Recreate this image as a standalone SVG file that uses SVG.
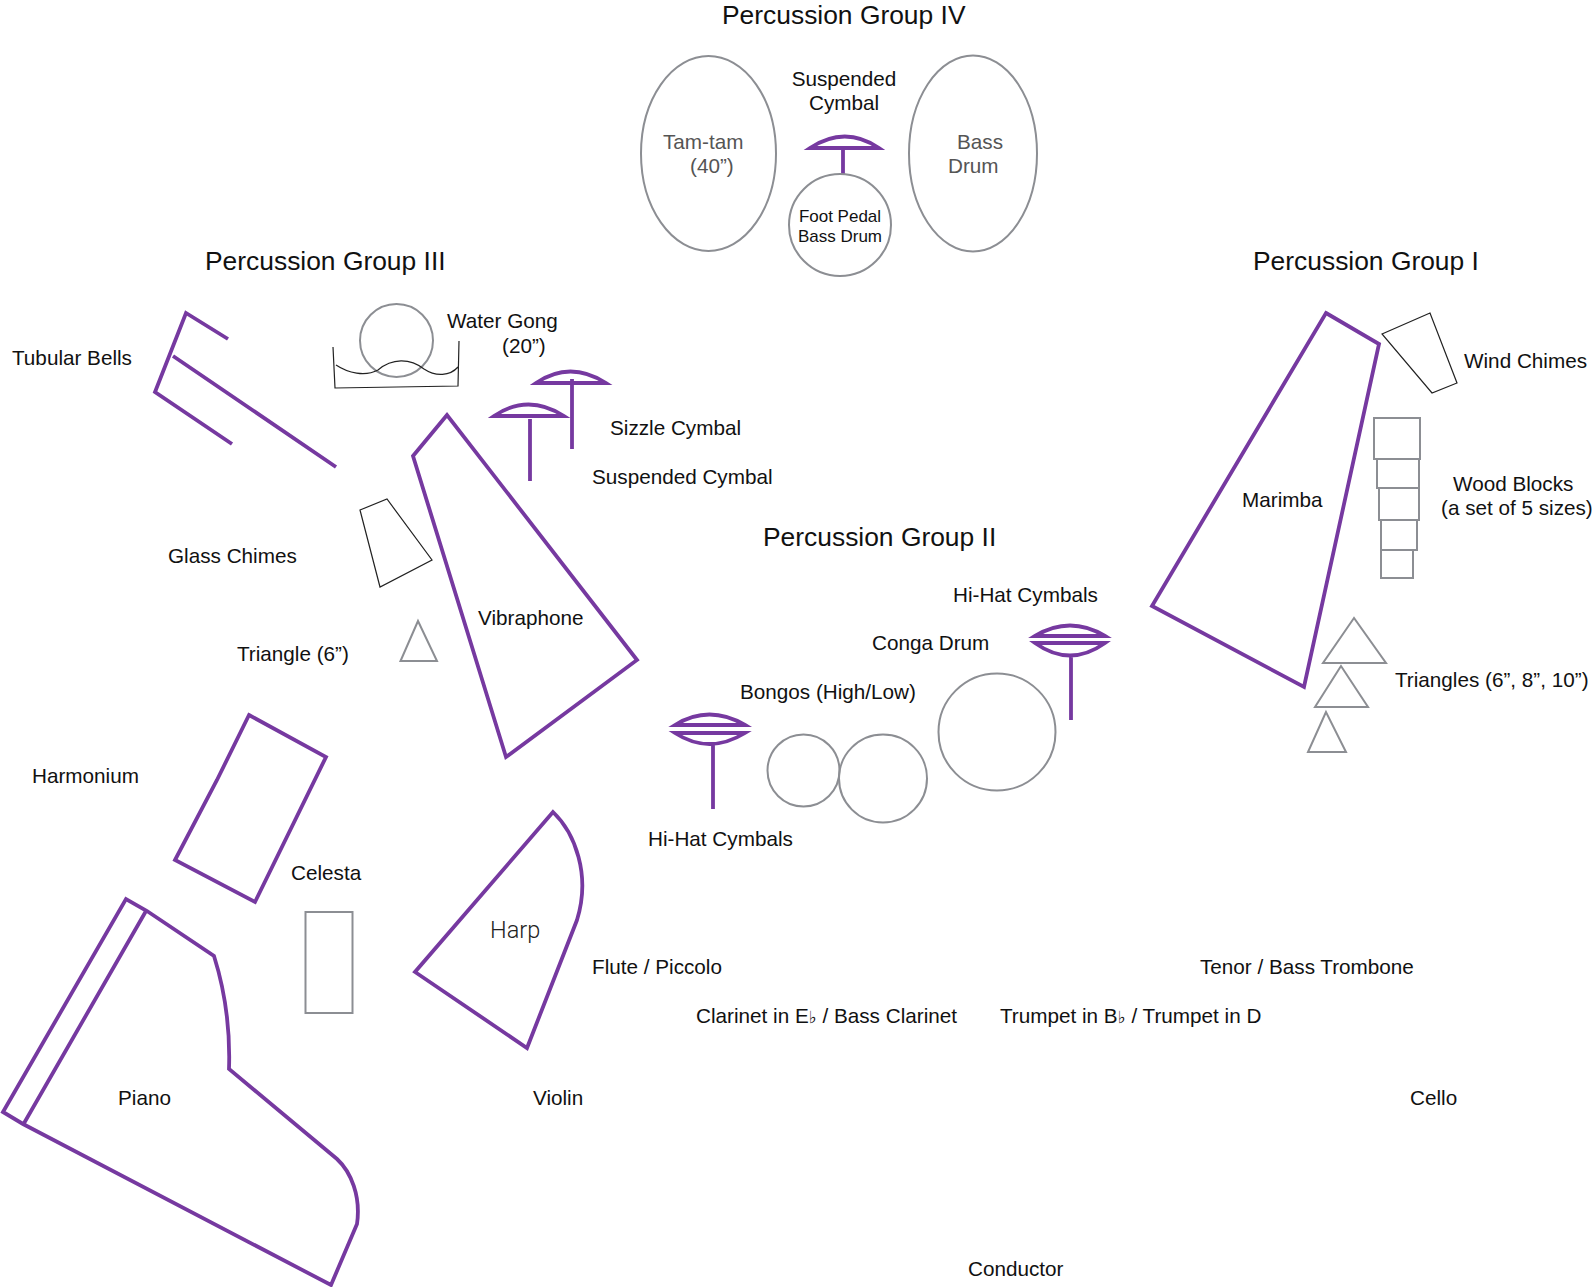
<svg xmlns="http://www.w3.org/2000/svg" width="1596" height="1287" viewBox="0 0 1596 1287">
<style>
text{font-family:"Liberation Sans",Arial,sans-serif;font-size:20.7px;fill:#111}
.t{font-size:26.4px}
.g{fill:#555}
.s{font-size:17px}
.f{font-family:"DejaVu Sans",sans-serif;font-size:17px}
.p{fill:none;stroke:#7639A0;stroke-width:3.8;stroke-linejoin:miter}
.y{fill:none;stroke:#8C8E93;stroke-width:2}
.k{fill:none;stroke:#222;stroke-width:1.2}
.m{text-anchor:middle}
</style>
<rect width="1596" height="1287" fill="#fff"/>
<g id="group4">
<text class="t" x="722" y="24">Percussion Group IV</text>
<g id="tam-tam"><ellipse class="y" cx="708.5" cy="153.5" rx="67.5" ry="97.5"/><text class="g" x="663" y="149">Tam-tam</text><text class="g" x="690" y="173">(40”)</text></g>
<g id="bass-drum"><ellipse class="y" cx="973" cy="153.5" rx="64" ry="98"/><text class="g" x="957" y="149">Bass</text><text class="g" x="948" y="173">Drum</text></g>
<g id="suspended-cymbal-4"><text class="m" x="844" y="86">Suspended</text><text class="m" x="844" y="110">Cymbal</text>
<path class="p" d="M810 148H879Q845 125 810 148ZM843 148V174"/></g>
<g id="foot-pedal"><circle class="y" cx="840" cy="225" r="51"/><text class="s m" x="840" y="222">Foot Pedal</text><text class="s m" x="840" y="242">Bass Drum</text></g>
</g>
<g id="group3">
<text class="t" x="205" y="270">Percussion Group III</text>
<g id="tubular-bells"><text x="12" y="365">Tubular Bells</text><path class="p" d="M228 339L186 313L155 392L232 444M173 356L336 467"/></g>
<g id="water-gong"><circle class="y" cx="396.5" cy="340.5" r="36.5"/>
<path class="k" d="M333 347L335 388L458 386L459 341M336 365C348 373 365 377 378 370C392 358 410 358 424 369C436 377 450 376 458 367"/>
<text x="447" y="328">Water Gong</text><text x="502" y="353">(20”)</text></g>
<g id="sizzle-cymbal"><path class="p" d="M536 383H606Q570 360 536 383ZM572 379V449"/><text x="610" y="435">Sizzle Cymbal</text></g>
<g id="suspended-cymbal-3"><path class="p" d="M494 416H564Q528 393 494 416ZM530 419V481"/><text x="592" y="484">Suspended Cymbal</text></g>
<g id="vibraphone"><path class="p" d="M447 415L413 456L506 757L637 660Z"/><text x="478" y="625">Vibraphone</text></g>
<g id="glass-chimes"><path class="k" d="M360 510L387 499L432 560L380 587Z"/><text x="168" y="563">Glass Chimes</text></g>
<g id="triangle-6"><path class="y" d="M418 621L400.500 661H437Z"/><text x="237" y="661">Triangle (6”)</text></g>
</g>
<g id="group2">
<text class="t" x="763" y="546">Percussion Group II</text>
<g id="hi-hat-left"><path class="p" d="M675 725H745Q709 704 675 725ZM675 733H745Q709 755 675 733ZM713 743V809"/><text x="648" y="846">Hi-Hat Cymbals</text></g>
<g id="bongos"><circle class="y" cx="803.500" cy="770.500" r="36"/><circle class="y" cx="883" cy="778.500" r="44"/><text x="740" y="699">Bongos (High/Low)</text></g>
<g id="conga"><circle class="y" cx="997" cy="732" r="58.500"/><text x="872" y="650">Conga Drum</text></g>
<g id="hi-hat-right"><path class="p" d="M1035 636H1105Q1070 615 1035 636ZM1035 643H1105Q1070 668 1035 643ZM1071 657V720"/><text x="953" y="602">Hi-Hat Cymbals</text></g>
</g>
<g id="group1">
<text class="t" x="1253" y="270">Percussion Group I</text>
<g id="marimba"><path class="p" d="M1326 313L1379 344L1304 687L1152 606Z"/><text x="1242" y="507">Marimba</text></g>
<g id="wind-chimes"><path class="k" d="M1382 334L1430 313L1457 383L1432 393Z"/><text x="1464" y="368">Wind Chimes</text></g>
<g id="wood-blocks"><rect class="y" x="1374" y="418" width="46" height="41"/><rect class="y" x="1377" y="459" width="42" height="29"/><rect class="y" x="1379" y="488" width="40" height="32"/><rect class="y" x="1381" y="520" width="36" height="30"/><rect class="y" x="1381" y="550" width="32" height="28"/>
<text x="1453" y="491">Wood Blocks</text><text x="1441" y="515">(a set of 5 sizes)</text></g>
<g id="triangles"><path class="y" d="M1354 618L1323 663H1386ZM1341 666L1315 707H1368ZM1326 712L1308 752H1346Z"/><text x="1395" y="687">Triangles (6”, 8”, 10”)</text></g>
</g>
<g id="harmonium"><path class="p" d="M249 715L326 757L255 902L175 860L217 780Z"/><text x="32" y="783">Harmonium</text></g>
<g id="celesta"><rect class="y" x="305.500" y="912" width="47" height="101"/><text x="291" y="880">Celesta</text></g>
<g id="piano"><path class="p" d="M3 1112L126 899L147 911L214 956Q231 1010 229 1069L337 1159C351 1172 361 1196 357 1224L331 1285L23 1124ZM146 911L23 1125"/><text x="118" y="1105">Piano</text></g>
<g id="harp"><path class="p" d="M553 812C575 833 591 875 577 920L527 1048L415 972Z"/><text x="490" y="938" style="font-size:23.5px;font-weight:300;font-family:Roboto,sans-serif;fill:#222">Harp</text></g>
<g id="flute"><text x="592" y="974">Flute / Piccolo</text></g>
<g id="clarinet"><text x="696" y="1023">Clarinet in E<tspan class="f">♭</tspan> / Bass Clarinet</text></g>
<g id="trumpet"><text x="1000" y="1023">Trumpet in B<tspan class="f">♭</tspan> / Trumpet in D</text></g>
<g id="trombone"><text x="1200" y="974">Tenor / Bass Trombone</text></g>
<g id="violin"><text x="533" y="1105">Violin</text></g>
<g id="cello"><text x="1410" y="1105">Cello</text></g>
<g id="conductor"><text x="968" y="1276">Conductor</text></g>
<g id="connectors"></g>
</svg>
